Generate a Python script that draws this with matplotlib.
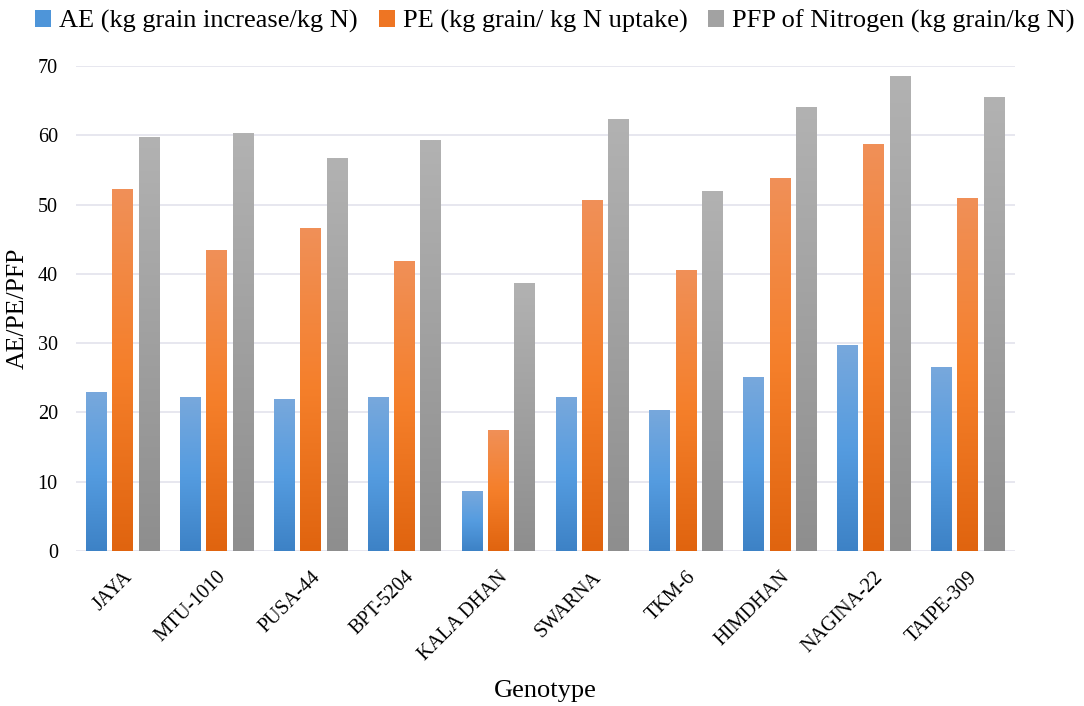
import numpy as np
import matplotlib
matplotlib.use("Agg")
import matplotlib.pyplot as plt
from matplotlib.colors import LinearSegmentedColormap
from matplotlib.patches import Patch

genotypes = ["JAYA", "MTU-1010", "PUSA-44", "BPT-5204", "KALA DHAN",
             "SWARNA", "TKM-6", "HIMDHAN", "NAGINA-22", "TAIPE-309"]
ae = [22.9, 22.2, 21.9, 22.2, 8.6, 22.2, 20.4, 25.1, 29.8, 26.6]
pe = [52.2, 43.4, 46.6, 41.9, 17.5, 50.6, 40.6, 53.8, 58.7, 51.0]
pfp = [59.8, 60.3, 56.7, 59.3, 38.7, 62.3, 52.0, 64.1, 68.5, 65.5]
series_names = ["AE (kg grain increase/kg N)",
                "PE (kg grain/ kg N uptake)",
                "PFP of Nitrogen (kg grain/kg N)"]

plt.rcParams['font.family'] = ['Liberation Serif', 'DejaVu Serif']

# gradient colours: bottom -> middle -> top
grads = [
    ["#3d82c6", "#559ce0", "#78a8dc"],
    ["#e0640f", "#f57f2a", "#f09058"],
    ["#8e8e8e", "#a0a0a0", "#b2b2b2"],
]
solid = ["#4e95d9", "#ee7523", "#a2a2a2"]

fig = plt.figure(figsize=(10.84, 7.06), dpi=100)
ax = fig.add_axes([0.070, 0.2195, 0.866, 0.687])

x = np.arange(len(genotypes))
width = 0.22
offs = [-0.28, 0, 0.28]
for vals, off, g in zip([ae, pe, pfp], offs, grads):
    cmap = LinearSegmentedColormap.from_list("g", g)
    bars = ax.bar(x + off, vals, width, color="none", edgecolor="none", zorder=3)
    for b in bars:
        # gradient fill clipped to the bar
        x0, w, h = b.get_x(), b.get_width(), b.get_height()
        grad = np.linspace(0, 1, 256).reshape(-1, 1)
        im = ax.imshow(grad, cmap=cmap, origin="lower", aspect="auto",
                       extent=[x0, x0 + w, 0, h], zorder=3)
        im.set_clip_path(b)

ax.set_xlim(-0.5, 9.5)
ax.set_ylim(0, 70)
ax.set_yticks(range(0, 71, 10))
ax.grid(axis="y", color="#e3e3ec", linewidth=1.2, zorder=0)
for s in ["top", "right", "left", "bottom"]:
    ax.spines[s].set_visible(False)
ax.tick_params(axis="both", length=0, labelsize=14.5)
ax.tick_params(axis="y", pad=13)
ax.set_xticks(x)
ax.set_xticklabels(genotypes, rotation=45, ha="right", rotation_mode="anchor")
ax.tick_params(axis="x", pad=12)
ax.set_ylabel("AE/PE/PFP", fontsize=18.5)
ax.yaxis.set_label_coords(-0.05, 0.5)
ax.set_xlabel("Genotype", fontsize=19)
ax.xaxis.set_label_coords(0.5, -0.265)

handles = [Patch(facecolor=c, edgecolor="none") for c in solid]
fig.legend(handles, series_names, loc="upper center", ncol=3, frameon=False,
           fontsize=19, bbox_to_anchor=(0.512, 1.02), handlelength=0.6,
           handleheight=0.6, handletextpad=0.3, columnspacing=0.8)

fig.savefig("out.png", dpi=100)
